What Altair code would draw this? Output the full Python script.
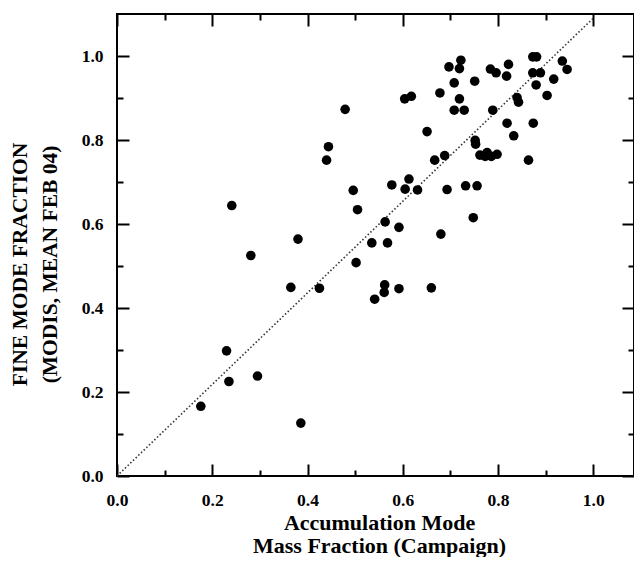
import altair as alt
import pandas as pd

# Accumulation mode mass fraction (campaign) -> x ; fine mode fraction (MODIS) -> y
x_vals = [
    0.697, 0.722, 0.719, 0.708, 0.751, 0.678, 0.604, 0.618, 0.719, 0.708,
    0.729, 0.789, 0.784, 0.796, 0.822, 0.818, 0.873, 0.881, 0.873, 0.889,
    0.880, 0.935, 0.945, 0.917, 0.903, 0.840, 0.843, 0.819, 0.874, 0.833,
    0.651, 0.752, 0.753, 0.762, 0.773, 0.777, 0.786, 0.798, 0.864, 0.667,
    0.688, 0.613, 0.577, 0.605, 0.631, 0.693, 0.732, 0.756, 0.748, 0.563,
    0.592, 0.680, 0.535, 0.568,
    0.479, 0.444, 0.440, 0.496, 0.505, 0.241, 0.380, 0.281, 0.502, 0.365,
    0.425, 0.541, 0.230, 0.235, 0.295, 0.176, 0.386, 0.562, 0.561, 0.592,
    0.660,
]
y_vals = [
    0.974, 0.990, 0.970, 0.936, 0.940, 0.912, 0.898, 0.904, 0.898, 0.871,
    0.871, 0.871, 0.969, 0.960, 0.980, 0.952, 0.998, 0.998, 0.960, 0.960,
    0.931, 0.988, 0.968, 0.945, 0.906, 0.901, 0.890, 0.840, 0.840, 0.810,
    0.820, 0.799, 0.790, 0.764, 0.761, 0.770, 0.761, 0.766, 0.752, 0.752,
    0.763, 0.707, 0.693, 0.683, 0.681, 0.682, 0.691, 0.691, 0.615, 0.605,
    0.592, 0.576, 0.555, 0.555,
    0.873, 0.784, 0.752, 0.680, 0.634, 0.644, 0.564, 0.525, 0.508, 0.449,
    0.447, 0.421, 0.298, 0.225, 0.238, 0.166, 0.126, 0.455, 0.437, 0.446,
    0.448,
]

# reference (dotted) line end points
line_x = [0.0, 1.0]
line_y = [0.0, 1.09]

major_ticks = [0.0, 0.2, 0.4, 0.6, 0.8, 1.0]
minor_ticks = [0.1, 0.3, 0.5, 0.7, 0.9]

x_title = ["Accumulation Mode", "Mass Fraction (Campaign)"]
y_title = ["FINE MODE FRACTION", "(MODIS, MEAN FEB 04)"]

df = pd.DataFrame({"x": x_vals, "y": y_vals})
ldf = pd.DataFrame({"x": line_x, "y": line_y})

FONT = "Liberation Serif"
xs = alt.Scale(domain=[0, 1.0855], nice=False, zero=False)
ys = alt.Scale(domain=[0, 1.1], nice=False, zero=False)

common = dict(domain=False, grid=False, tickColor="black", tickWidth=2)


def tick_axis(orient, values, size):
    return alt.Axis(orient=orient, values=values, offset=-size, tickSize=size,
                    labels=False, title=None, **common)


base = alt.Chart(df)

points = base.mark_circle(size=92, color="black", opacity=1).encode(
    x=alt.X("x:Q", scale=xs, axis=alt.Axis(
        orient="bottom", values=major_ticks, format=".1f", offset=-12, tickSize=12,
        labelFont=FONT, labelFontSize=17.5, labelFontWeight="bold", labelColor="black",
        labelPadding=29, labelBaseline="alphabetic", labelFlush=False,
        title=x_title, titleFont=FONT, titleFontSize=22, titleFontWeight="bold",
        titleColor="black", titleX=262, titleY=65, titleBaseline="alphabetic",
        titleAlign="center", titleLineHeight=23, **common)),
    y=alt.Y("y:Q", scale=ys, axis=alt.Axis(
        orient="left", values=major_ticks, format=".1f", offset=-12, tickSize=12,
        labelFont=FONT, labelFontSize=17.5, labelFontWeight="bold", labelColor="black",
        labelPadding=14, labelFlush=False,
        title=y_title, titleFont=FONT, titleFontSize=21.5, titleFontWeight="bold",
        titleColor="black", titleX=-103, titleY=250, titleAngle=270,
        titleBaseline="alphabetic", titleAlign="center", titleLineHeight=30, **common)),
)

minor_bl = base.mark_circle(opacity=0).encode(
    x=alt.X("x:Q", scale=xs, axis=tick_axis("bottom", minor_ticks, 6)),
    y=alt.Y("y:Q", scale=ys, axis=tick_axis("left", minor_ticks, 6)),
)
major_tr = base.mark_circle(opacity=0).encode(
    x=alt.X("x:Q", scale=xs, axis=tick_axis("top", major_ticks, 12)),
    y=alt.Y("y:Q", scale=ys, axis=tick_axis("right", major_ticks, 12)),
)
minor_tr = base.mark_circle(opacity=0).encode(
    x=alt.X("x:Q", scale=xs, axis=tick_axis("top", minor_ticks, 6)),
    y=alt.Y("y:Q", scale=ys, axis=tick_axis("right", minor_ticks, 6)),
)

diag = alt.Chart(ldf).mark_line(color="#333333", strokeWidth=1.6, strokeDash=[1.5, 2.2]).encode(
    x=alt.X("x:Q", scale=xs, axis=None),
    y=alt.Y("y:Q", scale=ys, axis=None),
)

chart = alt.layer(diag, points, minor_bl, major_tr, minor_tr).resolve_axis(
    x="independent", y="independent"
).properties(
    width=517, height=462,
    autosize=alt.AutoSizeParams(type="none"),
    padding={"left": 109, "top": 6, "right": 0, "bottom": 81},
    background="white",
).configure_view(stroke="black", strokeWidth=2)

chart.save("out.html", embed_options={"renderer": "svg", "actions": False})
